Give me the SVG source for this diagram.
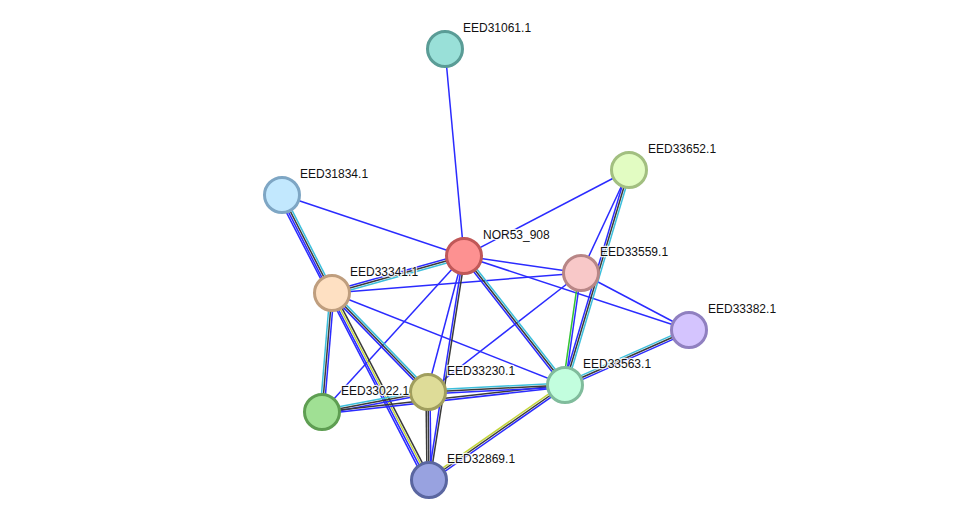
<svg xmlns="http://www.w3.org/2000/svg" width="976" height="526" viewBox="0 0 976 526">
<style>
line{stroke-width:1.5;fill:none}
.b{stroke:#2b2bff}
.k{stroke:#3a3a3a}
.c{stroke:#3cbfdc}
.y{stroke:#c4d63a}
.g{stroke:#33c433}
.n circle{stroke-width:3}
.n text{font-family:"Liberation Sans",Arial,sans-serif;font-size:12px;fill:#111;stroke:#fff;stroke-width:2.5;stroke-opacity:0.85;paint-order:stroke;stroke-linejoin:round}
</style>
<rect width="976" height="526" fill="#fff"/>
<g id="edges">
<!-- single blue edges -->
<line class="b" x1="464" y1="256" x2="445" y2="49"/>
<line class="b" x1="464" y1="256" x2="629" y2="170"/>
<line class="b" x1="464" y1="256" x2="282" y2="195"/>
<line class="b" x1="464" y1="256" x2="581" y2="273"/>
<line class="b" x1="464" y1="256" x2="689" y2="330"/>
<line class="b" x1="464" y1="256" x2="322" y2="412"/>
<line class="b" x1="463" y1="256" x2="427" y2="392"/>
<line class="b" x1="332" y1="293" x2="581" y2="273"/>
<line class="b" x1="332" y1="293" x2="565" y2="385"/>
<line class="b" x1="581" y1="273" x2="689" y2="330"/>
<line class="b" x1="581" y1="273" x2="428" y2="392"/>
<line class="b" x1="629" y1="170" x2="581" y2="273"/>
<line class="b" x1="278.4" y1="196.8" x2="425.4" y2="481.8"/>
<!-- NOR53 - EED33341 -->
<line class="b" x1="463.46" y1="254.07" x2="331.46" y2="291.07"/>
<line class="k" x1="464" y1="256" x2="332" y2="293"/>
<line class="c" x1="464.54" y1="257.93" x2="332.54" y2="294.93"/>
<!-- NOR53 - EED33563 -->
<line class="b" x1="462.42" y1="257.23" x2="563.42" y2="386.23"/>
<line class="k" x1="464" y1="256" x2="565" y2="385"/>
<line class="c" x1="465.58" y1="254.77" x2="566.58" y2="383.77"/>
<!-- NOR53 - EED32869 -->
<line class="b" x1="463.01" y1="255.85" x2="428.01" y2="479.85"/>
<line class="k" x1="464.99" y1="256.15" x2="429.99" y2="480.15"/>
<!-- EED33341 - EED31834 -->
<line class="b" x1="330.22" y1="293.91" x2="280.22" y2="195.91"/>
<line class="k" x1="332" y1="293" x2="282" y2="195"/>
<line class="c" x1="333.78" y1="292.09" x2="283.78" y2="194.09"/>
<!-- EED33341 - EED32869 -->
<line class="b" x1="330.23" y1="293.92" x2="427.23" y2="480.92"/>
<line class="y" x1="332" y1="293" x2="429" y2="480"/>
<line class="k" x1="333.78" y1="292.08" x2="430.78" y2="479.08"/>
<!-- EED33341 - EED33230 -->
<line class="b" x1="330.56" y1="294.39" x2="426.56" y2="393.39"/>
<line class="k" x1="332" y1="293" x2="428" y2="392"/>
<line class="c" x1="333.44" y1="291.61" x2="429.44" y2="390.61"/>
<!-- EED33341 - EED33022 -->
<line class="c" x1="330.01" y1="292.83" x2="320.01" y2="411.83"/>
<line class="k" x1="332" y1="293" x2="322" y2="412"/>
<line class="b" x1="333.99" y1="293.17" x2="323.99" y2="412.17"/>
<!-- EED33022 - EED33230 -->
<line class="b" x1="322.37" y1="413.96" x2="428.37" y2="393.96"/>
<line class="k" x1="322" y1="412" x2="428" y2="392"/>
<line class="c" x1="321.63" y1="410.04" x2="427.63" y2="390.04"/>
<!-- EED33022 - EED33563 -->
<line class="k" x1="322" y1="412" x2="565" y2="385"/>
<line class="b" x1="322.22" y1="413.99" x2="565.22" y2="386.99"/>
<!-- EED33230 - EED33563 -->
<line class="c" x1="427.9" y1="390" x2="564.9" y2="383"/>
<line class="k" x1="428" y1="392" x2="565" y2="385"/>
<line class="b" x1="428.1" y1="394" x2="565.1" y2="387"/>
<!-- EED33230 - EED32869 -->
<line class="k" x1="426" y1="392" x2="427" y2="480"/>
<line class="k" x1="428" y1="392" x2="429" y2="480"/>
<line class="b" x1="430" y1="392" x2="431" y2="480"/>
<!-- EED33563 - EED33652 -->
<line class="b" x1="563.08" y1="384.43" x2="627.08" y2="169.43"/>
<line class="k" x1="565" y1="385" x2="629" y2="170"/>
<line class="c" x1="566.92" y1="385.57" x2="630.92" y2="170.57"/>
<!-- EED33563 - EED33559 -->
<line class="g" x1="563.02" y1="384.72" x2="579.02" y2="272.72"/>
<line class="b" x1="565" y1="385" x2="581" y2="273"/>
<!-- EED33563 - EED33382 -->
<line class="c" x1="564.19" y1="383.17" x2="688.19" y2="328.17"/>
<line class="k" x1="565" y1="385" x2="689" y2="330"/>
<line class="b" x1="565.81" y1="386.83" x2="689.81" y2="331.83"/>
<!-- EED33563 - EED32869 -->
<line class="y" x1="563.85" y1="383.36" x2="427.85" y2="478.36"/>
<line class="k" x1="565" y1="385" x2="429" y2="480"/>
<line class="b" x1="566.15" y1="386.64" x2="430.15" y2="481.64"/>
</g>
<g id="EED31061.1" class="n"><circle cx="445" cy="49" r="17.5" fill="#99e0d8" stroke="#5a9c96"/><text x="463" y="32">EED31061.1</text></g>
<g id="EED33652.1" class="n"><circle cx="629" cy="170" r="17.5" fill="#e2fcc2" stroke="#a2bf80"/><text x="648" y="153">EED33652.1</text></g>
<g id="EED31834.1" class="n"><circle cx="282" cy="195" r="17.5" fill="#c2e8fe" stroke="#7ea6c4"/><text x="300" y="178">EED31834.1</text></g>
<g id="NOR53_908" class="n"><circle cx="464" cy="256" r="17.5" fill="#fd9191" stroke="#c05858"/><text x="483" y="239">NOR53_908</text></g>
<g id="EED33559.1" class="n"><circle cx="581" cy="273" r="17.5" fill="#f8c8c8" stroke="#b88686"/><text x="600" y="256">EED33559.1</text></g>
<g id="EED33341.1" class="n"><circle cx="332" cy="293" r="17.5" fill="#fee0c2" stroke="#bf9e7e"/><text x="350" y="276">EED33341.1</text></g>
<g id="EED33382.1" class="n"><circle cx="689" cy="330" r="17.5" fill="#d4c4fe" stroke="#9080c0"/><text x="708" y="313">EED33382.1</text></g>
<g id="EED33230.1" class="n"><circle cx="428" cy="392" r="17.5" fill="#dedc98" stroke="#a09e5e"/><text x="447" y="375">EED33230.1</text></g>
<g id="EED33563.1" class="n"><circle cx="565" cy="385" r="17.5" fill="#c2fede" stroke="#80bc9c"/><text x="583" y="368">EED33563.1</text></g>
<g id="EED33022.1" class="n"><circle cx="322" cy="412" r="17.5" fill="#a0e094" stroke="#5e9e52"/><text x="341" y="395">EED33022.1</text></g>
<g id="EED32869.1" class="n"><circle cx="429" cy="480" r="17.5" fill="#98a2e0" stroke="#5a66a0"/><text x="447" y="463">EED32869.1</text></g>
</svg>
